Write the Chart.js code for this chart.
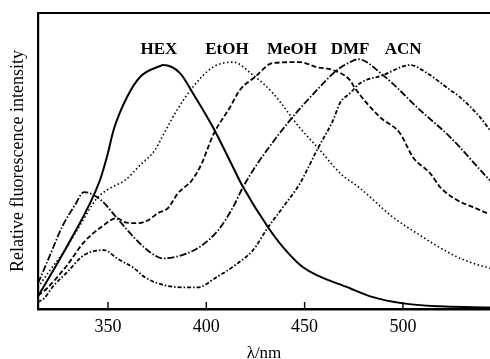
<!DOCTYPE html>
<html>
<head>
<meta charset="utf-8">
<script src="https://cdn.jsdelivr.net/npm/chart.js@4/dist/chart.umd.min.js"></script>
<style>
  html, body { margin: 0; padding: 0; background: #fff; }
  #wrap { width: 490px; height: 359px; }
</style>
</head>
<body>
<div id="wrap"><canvas id="plotHere" width="490" height="359"></canvas></div>
<script>
// wavelength (nm) and relative intensity
let hexX = [314.4, 330, 345.9, 349.5, 353, 359.7, 366.3, 376.5, 378, 386.6, 393.2, 403.4, 413.6, 418.7, 431.4, 439, 449.2, 473.1, 484.8, 500.1, 518.9, 535.7, 544.3];
let hexY = [4.3, 22.2, 43.5, 51.5, 60.8, 71.6, 78.4, 82.1, 82.4, 79.7, 72.9, 61.4, 47.9, 41.2, 27.6, 20.9, 14.1, 7.0, 4.0, 1.9, 0.9, 0.6, 0.5];

let etohX = [314.4, 320.5, 328.1, 335.8, 344.4, 351.0, 358.7, 366.3, 373.9, 378.0, 385.1, 393.2, 403.4, 413.6, 423.8, 433.9, 447.7, 457.8, 468.0, 478.2, 495.0, 508.7, 524.0, 534.1, 544.3];
let etohY = [7.3, 13.1, 19.9, 28.3, 37.4, 40.8, 43.5, 48.6, 53.7, 58.7, 67.2, 75.0, 81.7, 83.4, 79.0, 72.9, 61.1, 53.7, 45.9, 40.8, 31.0, 24.9, 18.8, 15.8, 13.8];

let meohX = [314.4, 319.0, 329.2, 337.8, 346.4, 354.6, 358.7, 365.3, 370.4, 375.4, 380.5, 385.6, 392.7, 397.8, 400.4, 403.4, 412.1, 417.1, 424.8, 433.9, 447.7, 456.3, 464.5, 473.1, 475.6, 488.4, 498.5, 505.1, 513.8, 518.9, 527.5, 535.7, 542.8];
let meohY = [4.5, 7.0, 14.8, 22.6, 27.6, 30.7, 29.3, 29.0, 30.0, 32.4, 34.1, 39.1, 43.5, 49.3, 53.7, 58.7, 68.2, 74.0, 78.4, 83.1, 83.4, 81.7, 80.7, 77.3, 74.6, 64.8, 59.4, 51.3, 45.9, 41.2, 36.8, 34.4, 32.4];

let dmfX = [314.4, 319.0, 327.1, 333.2, 337.8, 346.4, 354.6, 363.2, 371.4, 378.0, 390.2, 397.8, 406.0, 413.6, 418.7, 423.8, 430.9, 442.6, 456.3, 466.5, 473.1, 477.2, 489.9, 508.7, 524.0, 542.8, 544.3];
let dmfY = [8.7, 15.8, 28.3, 35.1, 39.5, 36.8, 30.7, 24.2, 19.2, 17.1, 18.8, 21.5, 26.6, 34.4, 41.2, 46.9, 53.7, 63.8, 74.0, 80.7, 83.4, 84.4, 79.0, 67.2, 58.1, 44.5, 43.5];

let acnX = [314.4, 317.5, 322.5, 329.2, 337.8, 348.0, 354.6, 363.2, 368.8, 379.0, 389.2, 395.8, 404.4, 414.6, 423.8, 431.4, 439.0, 447.7, 451.2, 456.3, 464.5, 468.0, 473.1, 478.2, 489.9, 503.6, 512.3, 524.0, 529.0, 539.2, 544.3];
let acnY = [2.3, 3.6, 8.0, 12.4, 18.2, 19.9, 17.1, 13.8, 10.7, 8.0, 7.3, 7.3, 10.4, 14.8, 19.9, 27.6, 34.4, 42.5, 46.9, 53.7, 63.8, 69.6, 72.9, 76.3, 79.0, 82.4, 79.7, 74.0, 71.6, 64.8, 60.4];

// axis ticks and curve labels
let xTicks = [350, 400, 450, 500];
let labelNames = ["HEX", "EtOH", "MeOH", "DMF", "ACN"];
let labelX = [375.9, 410.5, 443.6, 473.1, 500.1];
let labelY = [87.6, 87.6, 87.6, 87.6, 87.6];

function pts(xs, ys) {
  return xs.map((x, i) => ({ x: x, y: ys[i] }));
}

// frame line on top + small inner tick marks + curve labels
const framePlugin = {
  id: 'frame',
  afterDraw(chart) {
    const ctx = chart.ctx, a = chart.chartArea;
    const xs = chart.scales.x, ys = chart.scales.y;
    ctx.save();
    ctx.strokeStyle = '#000';
    ctx.lineWidth = 2.2;
    ctx.beginPath();
    ctx.moveTo(a.left - 1, a.top);
    ctx.lineTo(a.right, a.top);
    ctx.stroke();
    ctx.lineWidth = 1.4;
    xTicks.forEach(v => {
      const px = xs.getPixelForValue(v);
      ctx.beginPath();
      ctx.moveTo(px, a.bottom);
      ctx.lineTo(px, a.bottom - 7);
      ctx.stroke();
    });
    ctx.fillStyle = '#000';
    ctx.font = 'bold 17px "Liberation Serif", "DejaVu Serif", serif';
    ctx.textAlign = 'center';
    ctx.textBaseline = 'middle';
    labelNames.forEach((t, i) => {
      ctx.fillText(t, xs.getPixelForValue(labelX[i]), ys.getPixelForValue(labelY[i]));
    });
    ctx.restore();
  }
};

const serif = '"Liberation Serif", "DejaVu Serif", serif';

new Chart(document.getElementById('plotHere').getContext('2d'), {
  type: 'scatter',
  data: {
    datasets: [
      { label: 'HEX', data: pts(hexX, hexY), borderWidth: 2 },
      { label: 'EtOH', data: pts(etohX, etohY), borderWidth: 1.6, borderDash: [1.5, 2.5] },
      { label: 'MeOH', data: pts(meohX, meohY), borderWidth: 1.8, borderDash: [5, 2.5] },
      { label: 'DMF', data: pts(dmfX, dmfY), borderWidth: 1.8, borderDash: [7, 2, 1.5, 2] },
      { label: 'ACN', data: pts(acnX, acnY), borderWidth: 1.8, borderDash: [4, 2, 1.5, 2] }
    ].map(d => Object.assign({
      showLine: true,
      pointRadius: 0,
      borderColor: '#000',
      backgroundColor: '#000',
      cubicInterpolationMode: 'monotone',
      fill: false
    }, d))
  },
  options: {
    responsive: false,
    animation: false,
    layout: { padding: { top: 13, left: 0, right: 0, bottom: 0 } },
    plugins: { legend: { display: false }, tooltip: { enabled: false } },
    scales: {
      x: {
        type: 'linear',
        min: 314.4,
        max: 544.3,
        afterBuildTicks: s => { s.ticks = xTicks.map(v => ({ value: v })); },
        afterFit: s => { s.height = 50; },
        grid: { display: false, drawTicks: false },
        border: { display: true, color: '#000', width: 2.5 },
        ticks: { color: '#000', padding: 7, maxRotation: 0, font: { family: serif, size: 18 } },
        title: { display: true, text: 'λ/nm', color: '#000', padding: { top: 0, bottom: 0 },
                 font: { family: serif, size: 17, lineHeight: 0.7 } }
      },
      y: {
        type: 'linear',
        min: 0,
        max: 100,
        afterFit: s => { s.width = 38; },
        grid: { display: false, drawTicks: false },
        border: { display: true, color: '#000', width: 2.2 },
        ticks: { display: false },
        title: { display: true, text: 'Relative fluorescence intensity', color: '#000',
                 padding: { top: 7, bottom: 0 }, font: { family: serif, size: 18, lineHeight: 1.2 } }
      }
    }
  },
  plugins: [framePlugin]
});
</script>
</body>
</html>
